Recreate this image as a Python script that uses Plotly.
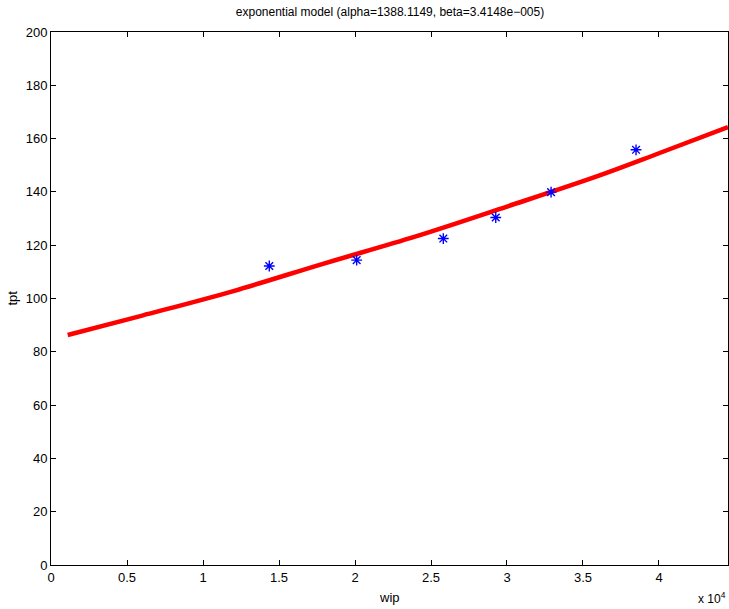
import plotly.graph_objects as go

# observed data (wip, tpt)
wip_obs = [14360, 20110, 25810, 29260, 32900, 38490]
tpt_obs = [112.2, 114.4, 122.5, 130.4, 139.9, 155.8]

# fitted exponential model curve
wip_fit = [1100, 6000, 12000, 18000, 24000, 30000, 36000, 40000, 44540]
tpt_fit = [86.3, 93.6, 102.8, 113.2, 123.3, 134.5, 146.0, 154.5, 164.3]

x_tickvals = [0, 5000, 10000, 15000, 20000, 25000, 30000, 35000, 40000]
x_ticktext = ["0", "0.5", "1", "1.5", "2", "2.5", "3", "3.5", "4"]
y_tickvals = [0, 20, 40, 60, 80, 100, 120, 140, 160, 180, 200]

font = "Liberation Sans, Arial, sans-serif"

fig = go.Figure()
fig.add_trace(go.Scatter(x=wip_fit, y=tpt_fit, mode="lines", line=dict(color="#ff0000", width=4.5, shape="spline"),
                         showlegend=False, hoverinfo="skip"))
fig.add_trace(go.Scatter(x=wip_obs, y=tpt_obs, mode="markers",
                         marker=dict(symbol="asterisk-open", size=9, color="#0000ff",
                                     line=dict(color="#0000ff", width=1.4)),
                         showlegend=False))

axis_common = dict(showline=True, linecolor="black", linewidth=1, mirror="ticks",
                   ticks="inside", ticklen=5, tickcolor="black", showgrid=False, zeroline=False,
                   automargin=False,
                   tickfont=dict(family=font, size=13, color="black"))

fig.update_layout(
    width=729, height=609,
    margin=dict(l=51, r=1, t=32, b=44, autoexpand=False),
    paper_bgcolor="white", plot_bgcolor="white",
    title=dict(text="exponential model (alpha=1388.1149, beta=3.4148e\u2212005)", x=0.535, xanchor="center",
               y=1 - 12 / 609, yanchor="middle", font=dict(family=font, size=12, color="black")),
    xaxis=dict(range=[0, 44540], tickvals=x_tickvals, ticktext=x_ticktext, **axis_common),
    yaxis=dict(range=[0, 200], tickvals=y_tickvals, **axis_common),
    annotations=[
        dict(text="wip", xref="paper", yref="paper", x=0.5, y=-32 / 533, yanchor="middle", showarrow=False,
             font=dict(family=font, size=13, color="black")),
        dict(text="tpt", xref="paper", yref="paper", x=-39 / 677, y=0.5, textangle=-90, xanchor="center",
             showarrow=False, font=dict(family=font, size=13, color="black")),
        dict(text="x 10<sup>4</sup>", xref="paper", yref="paper", x=1, xanchor="right", y=-33 / 533,
             yanchor="middle", showarrow=False, font=dict(family=font, size=12, color="black")),
    ],
)

fig.write_html("out.html", config={"displayModeBar": False},
               post_script="document.body.style.margin='0';")
